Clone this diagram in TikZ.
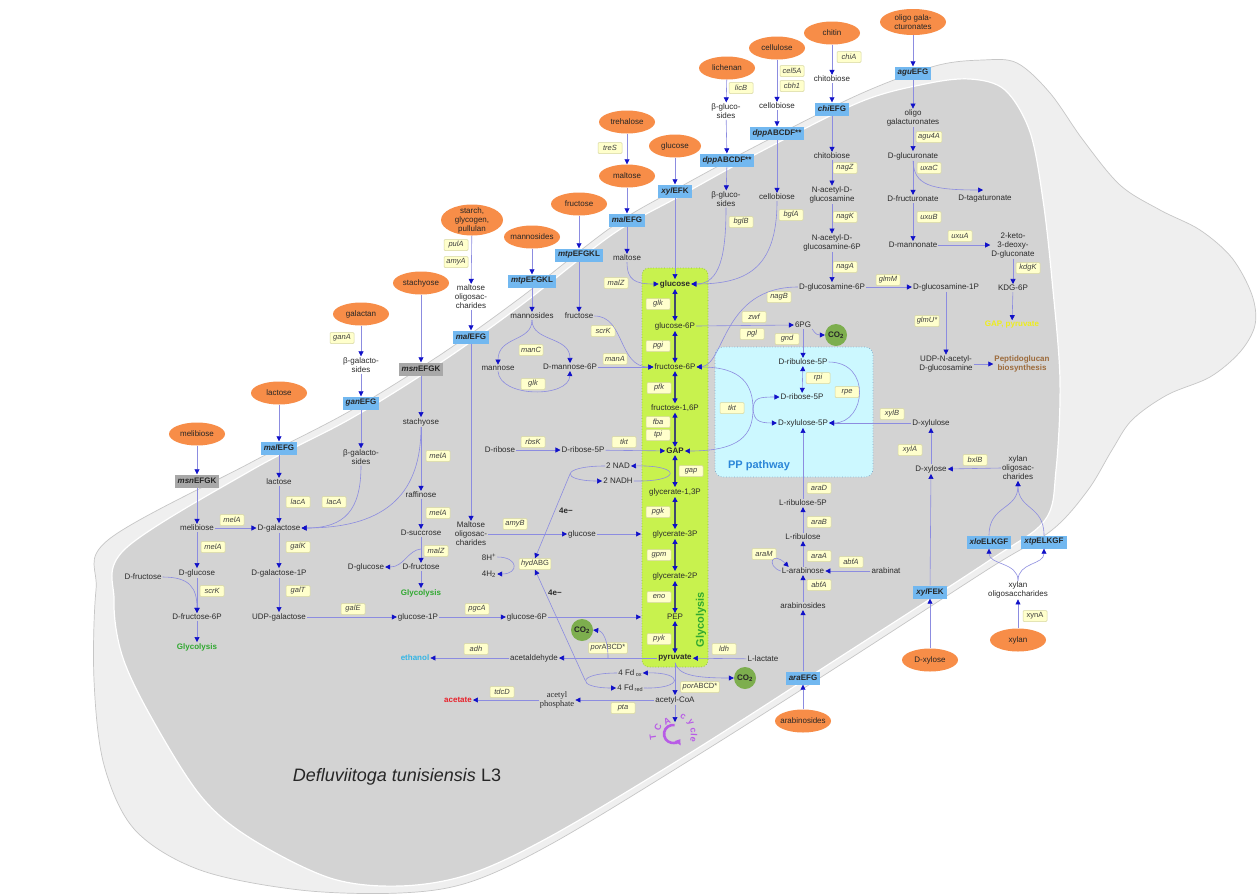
\documentclass[tikz,border=0pt]{standalone}
\usepackage{fontspec}
\setmainfont{Liberation Sans}
\newfontfamily\serifx{Liberation Serif}
\usetikzlibrary{arrows.meta,shapes.geometric}
\definecolor{outerg}{HTML}{EFEFEF}
\definecolor{outerb}{HTML}{C6C6C6}
\definecolor{innerg}{HTML}{D3D3D3}
\definecolor{ellc}{HTML}{F78D48}
\definecolor{tboxc}{HTML}{72B8F0}
\definecolor{gboxc}{HTML}{A8A8A8}
\definecolor{genef}{HTML}{FFFFCC}
\definecolor{genel}{HTML}{D6D6A0}
\definecolor{linec}{HTML}{8C8CE0}
\definecolor{arrc}{HTML}{1010C8}
\definecolor{glyf}{HTML}{C8F24E}
\definecolor{glyb}{HTML}{8DB83A}
\definecolor{ppf}{HTML}{CCF8FF}
\definecolor{ppb}{HTML}{7FA8C8}
\definecolor{co2c}{HTML}{7DAE4E}
\definecolor{metc}{HTML}{2B2B2B}
\definecolor{greent}{HTML}{2FA82F}
\definecolor{ppt}{HTML}{2B86D8}
\definecolor{ethc}{HTML}{33B5E5}
\definecolor{acec}{HTML}{E8202A}
\definecolor{pepc}{HTML}{9C6A3A}
\definecolor{gapyc}{HTML}{EEEE1C}
\definecolor{tcac}{HTML}{B85CE6}
\definecolor{colc}{HTML}{404870}
\begin{document}
\begin{tikzpicture}[x=1pt,y=-1pt,
  mtext/.style={font=\fontsize{8}{9}\selectfont, text=metc, align=center, inner sep=1pt},
  elltxt/.style={font=\fontsize{8}{9}\selectfont, text=black!85, align=center, inner sep=0pt},
  ellx/.style={ellipse, fill=ellc, minimum width=56pt, minimum height=23pt, inner sep=0pt, label={[elltxt]center:#1}},
  tbx/.style={rectangle, fill=tboxc, minimum height=13pt, inner xsep=3pt, inner ysep=0pt, font=\fontsize{8}{9}\selectfont\bfseries, text=black!85},
  gbx/.style={tbx, fill=gboxc},
  gen/.style={rectangle, rounded corners=1pt, fill=genef, draw=genel, line width=0.5pt, minimum width=24pt, minimum height=11pt, inner xsep=2pt, inner ysep=0pt, font=\fontsize{7.5}{8}\selectfont\itshape, text=black!75},
  fl/.style={draw=linec, line width=0.6pt, -{Triangle[length=5pt,width=5pt,color=arrc]}},
  fl2/.style={draw=linec, line width=0.6pt, {Triangle[length=5pt,width=5pt,color=arrc]}-{Triangle[length=5pt,width=5pt,color=arrc]}},
  colx/.style={draw=colc, line width=1.1pt, {Triangle[length=5pt,width=5pt,color=arrc]}-{Triangle[length=5pt,width=5pt,color=arrc]}},
  cotwo/.style={circle, fill=co2c, minimum size=22pt, inner sep=0pt, font=\fontsize{8}{9}\selectfont\bfseries, text=black!85},
  boldt/.style={mtext, font=\fontsize{8}{9}\selectfont\bfseries},
  tcal/.style={font=\fontsize{9}{10}\selectfont\bfseries, text=tcac, inner sep=0pt}
]
\useasboundingbox (0,0) rectangle (1258,895);
\fill[white] (0,0) rectangle (1258,895);
% ---------- background cell ----------
\fill[outerg, draw=outerb, line width=0.7pt] plot[smooth cycle, tension=0.55] coordinates {
 (96,590) (108,540) (250,463) (350,411) (440,355) (520,298) (613,226) (680,187) (760,144) (860,94) (935,66)
 (983,60) (1017,63) (1050,93) (1083,140) (1120,185) (1160,210) (1200,230) (1232,258) (1252,295) (1255,325)
 (1240,352) (1210,377) (1167,395) (1132,420) (1112,450) (1088,490) (1052,530) (990,568) (840,665) (690,760)
 (553,843) (470,882) (400,893) (300,890) (200,870) (135,830) (104,765) (94,680)};
\fill[innerg, draw=white, line width=1.2pt] plot[smooth cycle, tension=0.55] coordinates {
 (114,600) (125,549) (250,471) (350,419) (440,363) (520,306) (613,234) (680,196) (760,152) (860,102) (925,84)
 (970,79) (1005,90) (1030,132) (1043,200) (1052,280) (1060,380) (1056,470) (1045,520) (990,560) (840,657)
 (690,753) (553,835) (470,874) (400,886) (330,878) (250,838) (200,795) (150,715) (122,655)};
% ---------- pathway boxes ----------
\draw[fill=glyf, draw=glyb, dotted, line width=0.7pt, rounded corners=7pt] (642,268) rectangle (708,667);
\draw[fill=ppf, draw=ppb, dotted, line width=0.7pt, rounded corners=8pt] (715,347) rectangle (873,477);
\node[rotate=90, font=\fontsize{11}{12}\selectfont\bfseries, text=greent] (glyV) at (701,620) {Glycolysis};
\node[font=\fontsize{11}{12}\selectfont\bfseries, text=ppt] (ppT) at (759,466) {PP pathway};
% ---------- upper middle sources ----------
\node[ellx={trehalose}] (trehE) at (627,122) {};
\node[gen] (gtreS) at (610,148) {treS};
\node[ellx={maltose}] (maltE) at (627,176) {};
\node[tbx] (malEFGa) at (627,220) {\textit{mal}EFG};
\node[mtext] (maltoseT) at (627,258) {maltose};
\node[ellx={glucose}, minimum width=52pt] (glcE) at (675,146) {};
\node[tbx] (xylEFK) at (675,191) {\textit{xyl}EFK};
\node[ellx={fructose}] (fruE) at (579,204) {};
\node[tbx] (mtpa) at (579,255) {\textit{mtp}EFGKL};
\node[mtext] (fructoseT) at (579,316) {fructose};
\node[ellx={mannosides}] (mannE) at (532,237) {};
\node[tbx] (mtpb) at (532,281) {\textit{mtp}EFGKL};
\node[mtext] (mannosidesT) at (532,316) {mannosides};
\node[ellx={starch,\\glycogen,\\pullulan}, minimum width=62pt, minimum height=31pt] (starchE) at (472,220) {};
\node[gen] (gpulA) at (456,245) {pulA};
\node[gen] (gamyA) at (456,262) {amyA};
\node[mtext] (moligoT) at (471,297) {maltose\\oligosac-\\charides};
\node[tbx] (malEFGb) at (471,337) {\textit{mal}EFG};
\node[mtext] (moligoBT) at (471,534) {Maltose\\oligosac-\\charides};
\node[gen] (gmalZa) at (616,283) {malZ};
\node[gen] (gscrKa) at (603,331) {scrK};
\node[mtext] (mannoseT) at (498,368) {mannose};
\node[gen] (gmanC) at (531,350) {manC};
\node[mtext] (dmsixT) at (570,367) {D-mannose-6P};
\node[gen] (gglkb) at (533,384) {glk};
\node[gen] (gmanA) at (615,359) {manA};
\node[mtext] (driboseT) at (500,450) {D-ribose};
\node[gen] (grbsK) at (533,442) {rbsK};
\node[mtext] (drfiveT) at (583,450) {D-ribose-5P};
\node[gen] (gtkta) at (624,442) {tkt};
\node[mtext] (nadT) at (618,466) {2 NAD};
\node[mtext] (nadhT) at (618,481) {2 NADH};
\node[boldt] (efourA) at (566,511) {4e−};
\node[gen] (gamyB) at (515,524) {amyB};
\node[mtext] (glcCT) at (582,534) {glucose};
\coordinate (boxA) at (641,534);
\node[mtext] (heightT) at (489,557) {8H\textsuperscript{+}};
\node[mtext] (htwoT) at (489,574) {4H\textsubscript{2}};
\node[gen] (ghyd) at (535,564) {hyd{\upshape ABG}};
\node[boldt] (efourB) at (555,593) {4e−};
\node[cotwo] (cotwoC) at (582,630) {CO\textsubscript{2}};
\node[gen] (gporA) at (608,648) {por{\upshape ABCD*}};
\node[gen] (gadh) at (476,649) {adh};
\node[mtext] (acetaldT) at (534,658) {acetaldehyde};
\node[mtext, font=\fontsize{8}{9}\selectfont\bfseries, text=ethc] (ethanolT) at (415,658) {ethanol};
\node[mtext] (fdoxT) at (630,673) {4 Fd\,\raisebox{-1pt}{\fontsize{5.5}{6}\selectfont ox}};
\node[mtext] (fdredT) at (630,688) {4 Fd\,\raisebox{-1pt}{\fontsize{5.5}{6}\selectfont red}};
\node[gen] (gtdcD) at (502,692) {tdcD};
\node[mtext, font=\fontsize{8.5}{9}\selectfont\serifx] (acphT) at (557,700) {acetyl\\phosphate};
\node[mtext, font=\fontsize{8}{9}\selectfont\bfseries, text=acec] (acetateT) at (458,700) {acetate};
\node[gen] (gpta) at (623,708) {pta};
\node[mtext] (acoaT) at (675,700) {acetyl-CoA};
\coordinate (tcaIn) at (675,722);
% ---------- glycolysis column ----------
\node[boldt] (glucoseG) at (675,284) {glucose};
\node[mtext] (gsixT) at (675,326) {glucose-6P};
\node[mtext] (fsixT) at (675,367) {fructose-6P};
\node[mtext] (fbpT) at (675,408) {fructose-1,6P};
\node[boldt] (gapT) at (675,451) {GAP};
\node[mtext] (gotT) at (675,492) {glycerate-1,3P};
\node[mtext] (gthreeT) at (675,534) {glycerate-3P};
\node[mtext] (gtwoT) at (675,576) {glycerate-2P};
\node[mtext] (pepT) at (675,617) {PEP};
\node[boldt] (pyrT) at (675,658) {pyruvate};
\node[gen] (gglk) at (658,304) {glk};
\node[gen] (gpgi) at (658,346) {pgi};
\node[gen] (gpfk) at (659,388) {pfk};
\node[gen] (gfba) at (658,422) {fba};
\node[gen] (gtpi) at (658,435) {tpi};
\node[gen] (ggap) at (691,471) {gap};
\node[gen] (gpgk) at (658,512) {pgk};
\node[gen] (ggpm) at (659,555) {gpm};
\node[gen] (geno) at (659,597) {eno};
\node[gen] (gpyk) at (659,639) {pyk};
% ---------- left sources ----------
\node[ellx={stachyose}] (stachE) at (421,283) {};
\node[gbx] (msna) at (421,369) {\textit{msn}EFGK};
\node[mtext] (stachT) at (421,422) {stachyose};
\node[gen] (gmelAa) at (438,456) {melA};
\node[mtext] (raffT) at (421,495) {raffinose};
\node[gen] (gmelAb) at (438,513) {melA};
\node[mtext] (dsuccT) at (421,533) {D-succrose};
\node[gen] (gmalZb) at (436,551) {malZ};
\node[mtext] (dfruT) at (421,567) {D-fructose};
\node[mtext] (dglcBT) at (366,567) {D-glucose};
\node[mtext, font=\fontsize{8}{9}\selectfont\bfseries, text=greent] (glycoBT) at (421,593) {Glycolysis};
\coordinate (succbr) at (421,549);
\node[ellx={galactan}] (galE) at (361,314) {};
\node[gen] (gganA) at (342,338) {ganA};
\node[mtext] (bgalaT) at (361,365) {β-galacto-\\sides};
\node[tbx] (ganEFG) at (361,403) {\textit{gan}EFG};
\node[mtext] (bgalbT) at (361,457) {β-galacto-\\sides};
\node[ellx={lactose}] (lacE) at (279,393) {};
\node[tbx] (malEFGc) at (279,448) {\textit{mal}EFG};
\node[mtext] (lactoseT) at (279,482) {lactose};
\node[gen] (glacAa) at (298,502) {lacA};
\node[gen] (glacAb) at (334,502) {lacA};
\node[mtext] (dgalT) at (279,528) {D-galactose};
\node[gen] (ggalK) at (298,547) {galK};
\node[mtext] (dgalpT) at (279,573) {D-galactose-1P};
\node[gen] (ggalT) at (298,591) {galT};
\node[mtext] (udpgalT) at (279,617) {UDP-galactose};
\node[gen] (ggalE) at (353,609) {galE};
\node[mtext] (gonepT) at (418,617) {glucose-1P};
\node[gen] (gpgcA) at (477,609) {pgcA};
\node[mtext] (gsixBT) at (527,617) {glucose-6P};
\coordinate (boxB) at (641,617);
\node[ellx={melibiose}] (melE) at (197,434) {};
\node[gbx] (msnb) at (197,481) {\textit{msn}EFGK};
\node[mtext] (melT) at (197,528) {melibiose};
\node[gen] (gmelAc) at (232,520) {melA};
\node[gen] (gmelAd) at (213,547) {melA};
\node[mtext] (dglcT) at (197,573) {D-glucose};
\node[mtext] (dfruAT) at (143,577) {D-fructose};
\node[gen] (gscrKb) at (212,591) {scrK};
\node[mtext] (dfsixT) at (197,617) {D-fructose-6P};
\node[mtext, font=\fontsize{8}{9}\selectfont\bfseries, text=greent] (glycoAT) at (197,647) {Glycolysis};
% ---------- upper right sources ----------
\node[ellx={lichenan}] (lichE) at (727,68) {};
\node[gen] (glicB) at (741,88) {licB};
\node[mtext] (bglucaT) at (726,111) {β-gluco-\\sides};
\node[tbx] (dppb) at (727,160) {\textit{dpp}ABCDF**};
\node[mtext] (bglucbT) at (726,199) {β-gluco-\\sides};
\node[gen] (gbglB) at (741,222) {bglB};
\node[ellx={cellulose}] (cellE) at (777,48) {};
\node[gen] (gcel) at (792,71) {cel5A};
\node[gen] (gcbh) at (792,86) {cbh1};
\node[mtext] (cellobaT) at (777,106) {cellobiose};
\node[tbx] (dppa) at (777,133) {\textit{dpp}ABCDF**};
\node[mtext] (cellobbT) at (777,197) {cellobiose};
\node[gen] (gbglA) at (791,215) {bglA};
\node[ellx={chitin}] (chitinE) at (832,33) {};
\node[gen] (gchiA) at (849,57) {chiA};
\node[mtext] (chitobaT) at (832,79) {chitobiose};
\node[tbx] (chiEFG) at (832,109) {\textit{chi}EFG};
\node[mtext] (chitobbT) at (832,156) {chitobiose};
\node[gen] (gnagZ) at (845,168) {nagZ};
\node[mtext] (nacT) at (832,195) {N-acetyl-D-\\glucosamine};
\node[gen] (gnagK) at (845,217) {nagK};
\node[mtext] (nacsixT) at (832,243) {N-acetyl-D-\\glucosamine-6P};
\node[gen] (gnagA) at (845,267) {nagA};
\node[mtext] (gnsixT) at (832,287) {D-glucosamine-6P};
\node[gen] (gglmM) at (888,280) {glmM};
\node[mtext] (gnoneT) at (946,287) {D-glucosamine-1P};
\node[gen] (gglmU) at (927,321) {glmU*};
\node[mtext] (udpT) at (946,364) {UDP-N-acetyl-\\D-glucosamine};
\node[mtext, font=\fontsize{8}{9}\selectfont\bfseries, text=pepc] (peptT) at (1022,364) {Peptidoglucan\\biosynthesis};
\node[ellx={oligo gala-\\cturonates}, minimum width=66pt, minimum height=26pt] (oligoE) at (913,22) {};
\node[tbx] (aguEFG) at (913,73) {\textit{agu}EFG};
\node[mtext] (oligoT) at (913,118) {oligo\\galacturonates};
\node[gen] (gagu) at (929,137) {agu4A};
\node[mtext] (glcurT) at (913,156) {D-glucuronate};
\node[gen] (guxaC) at (929,168) {uxaC};
\node[mtext] (fruurT) at (913,199) {D-fructuronate};
\node[mtext] (tagT) at (985,199) {D-tagaturonate};
\coordinate (tagIn) at (983,190);
\node[gen] (guxuB) at (929,217) {uxuB};
\node[mtext] (mannonT) at (913,245) {D-mannonate};
\node[gen] (guxuA) at (960,236) {uxuA};
\node[mtext] (kdgT) at (1013,245) {2-keto-\\3-deoxy-\\D-gluconate};
\node[gen] (gkdgK) at (1028,268) {kdgK};
\node[mtext] (kdgsixT) at (1013,288) {KDG-6P};
\node[mtext, font=\fontsize{8}{9}\selectfont\bfseries, text=gapyc] (gappyrT) at (1012,325) {GAP, pyruvate};
% ---------- PP pathway ----------
\node[gen] (gnagB) at (779,297) {nagB};
\node[gen] (gzwf) at (754,317) {zwf};
\node[gen] (gpgl) at (752,334) {pgl};
\node[gen] (ggnd) at (787,339) {gnd};
\node[mtext] (sixpgT) at (803,325) {6PG};
\node[cotwo] (cotwoA) at (836,335) {CO\textsubscript{2}};
\node[mtext] (rufiveT) at (803,362) {D-ribulose-5P};
\node[gen] (grpi) at (818,378) {rpi};
\node[mtext] (rfiveT) at (802,397) {D-ribose-5P};
\node[gen] (grpe) at (847,392) {rpe};
\node[mtext] (xufiveT) at (803,423) {D-xylulose-5P};
\node[gen] (gtktb) at (732,408) {tkt};
\coordinate (tktP) at (753,409);
% ---------- xylose / arabinose ----------
\node[gen] (gxylB) at (892,414) {xylB};
\node[mtext] (xuluT) at (931,423) {D-xylulose};
\node[gen] (gxylA) at (910,450) {xylA};
\node[mtext] (xyloseT) at (931,469) {D-xylose};
\node[gen] (gbxlB) at (975,460) {bxlB};
\node[mtext] (xoligoT) at (1018,468) {xylan\\oligosac-\\charides};
\node[tbx] (xlo) at (989,542) {\textit{xlo}ELKGF};
\node[tbx] (xtp) at (1044,542) {\textit{xtp}ELKGF};
\node[mtext] (xoligoBT) at (1018,590) {xylan\\oligosaccharides};
\node[gen, font=\fontsize{7.5}{8}\selectfont] (gxynA) at (1035,616) {xynA};
\node[ellx={xylan}] (xylanE) at (1018,640) {};
\node[tbx] (xylFEK) at (930,592) {\textit{xyl}FEK};
\node[ellx={D-xylose}] (xyloseE) at (930,660) {};
\node[gen] (garaD) at (819,488) {araD};
\node[mtext] (lrufiveT) at (803,503) {L-ribulose-5P};
\node[gen] (garaB) at (819,522) {araB};
\node[mtext] (lrulT) at (803,537) {L-ribulose};
\node[gen] (garaM) at (764,554) {araM};
\node[gen] (garaA) at (819,556) {araA};
\node[gen] (gabfAa) at (851,562) {abfA};
\node[mtext] (larabT) at (803,571) {L-arabinose};
\node[mtext] (arabinatT) at (886,571) {arabinat};
\node[gen] (gabfAb) at (819,585) {abfA};
\node[mtext] (arabsT) at (803,606) {arabinosides};
\node[tbx] (araEFG) at (803,678) {\textit{ara}EFG};
\node[ellx={arabinosides}] (araE) at (803,721) {};
\node[gen] (gldh) at (724,649) {ldh};
\node[mtext] (llacT) at (763,659) {L-lactate};
\node[cotwo] (cotwoB) at (745,678) {CO\textsubscript{2}};
\node[gen] (gporB) at (700,687) {por{\upshape ABCD*}};
% ---------- title ----------
\node[font=\fontsize{18}{20}\selectfont, text=black!85] (title) at (397,777) {\textit{Defluviitoga tunisiensis} L3};
% ---------- TCA cycle ----------
\draw[tcac, line width=2.6pt, -{Triangle[length=5pt,width=7pt]}] (674.6,725.1) arc[start angle=-80, end angle=-325, radius=9];
\node[tcal, rotate=98] (tcaT) at (653,737) {T};
\node[tcal, rotate=65] (tcaC) at (658,727) {C};
\node[tcal, rotate=25] (tcaA) at (667,721) {A};
\node[tcal, rotate=-30] (cyA) at (683,717) {c};
\node[tcal, rotate=-57] (cyB) at (690,723) {y};
\node[tcal, rotate=-79] (cyC) at (693,730) {c};
\node[tcal, rotate=-93] (cyD) at (694,735) {l};
\node[tcal, rotate=-107] (cyE) at (693,740) {e};
% ================= connectors =================
% glucose / maltose / trehalose
\draw[fl] (trehE) -- (maltE);
\draw[fl] (maltE) -- (malEFGa);
\draw[fl] (malEFGa) -- (maltoseT);
\draw[fl] (maltoseT.south) .. controls (627,280) and (635,284) .. (glucoseG.west);
\draw[fl] (glcE) -- (xylEFK);
\draw[fl] (xylEFK) -- (glucoseG);
\draw[fl] (fruE) -- (mtpa);
\draw[fl] (mtpa) -- (fructoseT);
\draw[fl] (fructoseT.east) .. controls (625,316) and (618,367) .. (fsixT.west);
\draw[fl] (mannE) -- (mtpb);
\draw[fl] (mtpb) -- (mannosidesT);
\draw[fl] (mannosidesT.south) .. controls (532,342) and (498,336) .. (mannoseT.north);
\draw[fl] (mannosidesT.south) .. controls (532,342) and (570,336) .. (dmsixT.north);
\draw[fl] (mannoseT.south) .. controls (500,398) and (569,398) .. (dmsixT.south);
\draw[fl] (dmsixT.east) -- (fsixT.west);
\draw[fl] (starchE) -- (moligoT);
\draw[fl] (moligoT) -- (malEFGb);
\draw[fl] (malEFGb) -- (moligoBT);
\draw[fl] (moligoBT.east) -- (glcCT.west);
\draw[fl] (glcCT.east) -- (boxA);
% stachyose / galactan / lactose / melibiose
\draw[fl] (stachE) -- (msna);
\draw[fl] (msna) -- (stachT);
\draw[fl] (stachT) -- (raffT);
\draw[fl] (raffT) -- (dsuccT);
\draw[fl] (dsuccT) -- (dfruT);
\draw[fl] (dfruT) -- (glycoBT);
\draw[fl] (succbr) .. controls (408,550) and (404,567) .. (dglcBT.east);
\draw[fl] (stachT.south) .. controls (421,490) and (390,528) .. (dgalT.east);
\draw[fl] (galE) -- (bgalaT);
\draw[fl] (bgalaT) -- (ganEFG);
\draw[fl] (ganEFG) -- (bgalbT);
\draw[fl] (bgalbT.south) .. controls (361,510) and (345,528) .. (dgalT.east);
\draw[fl] (lacE) -- (malEFGc);
\draw[fl] (malEFGc) -- (lactoseT);
\draw[fl] (lactoseT) -- (dgalT);
\draw[fl] (dgalT) -- (dgalpT);
\draw[fl] (dgalpT) -- (udpgalT);
\draw[fl] (udpgalT) -- (gonepT);
\draw[fl] (gonepT) -- (gsixBT);
\draw[fl] (gsixBT) -- (boxB);
\draw[fl] (melE) -- (msnb);
\draw[fl] (msnb) -- (melT);
\draw[fl] (melT) -- (dgalT);
\draw[fl] (melT) -- (dglcT);
\draw[fl] (dglcT) -- (dfsixT);
\draw[fl] (dfsixT) -- (glycoAT);
\draw[fl] (dfruAT.east) .. controls (190,577) and (197,588) .. (dfsixT.north);
% ribose, NAD, hydrogenase
\draw[fl] (driboseT) -- (drfiveT);
\draw[fl] (drfiveT) -- (gapT);
\draw[fl] (nadhT.east) .. controls (682,482) and (682,465) .. (nadT.east);
\draw[fl] (nadT.west) .. controls (560,466) and (560,481) .. (nadhT.west);
\coordinate (nadL) at (570,474);
\draw[fl] (nadL) -- (ghyd.north);
\coordinate (fdL) at (585,680);
\draw[fl] (fdL) -- (ghyd.south);
\draw[fl] (fdredT.east) .. controls (684,689) and (684,672) .. (fdoxT.east);
\draw[fl] (fdoxT.west) .. controls (576,673) and (576,688) .. (fdredT.west);
\draw[fl] (heightT.east) .. controls (519,557) and (519,574) .. (htwoT.east);
% pyruvate
\draw[fl] (pyrT) -- (acoaT);
\draw[fl] (acoaT) -- (tcaIn);
\draw[fl] (pyrT.south) .. controls (678,675) and (695,678) .. (cotwoB.west);
\draw[fl] (pyrT.west) -- (acetaldT.east);
\coordinate (porbr) at (608,658);
\draw[fl] (porbr) .. controls (608,640) and (603,631) .. (cotwoC.east);
\draw[fl] (acetaldT) -- (ethanolT);
\draw[fl] (llacT) -- (pyrT);
\draw[fl] (acoaT) -- (acphT);
\draw[fl] (acphT) -- (acetateT);
% glycolysis column
\draw[colx] (glucoseG) -- (gsixT);
\draw[colx] (gsixT) -- (fsixT);
\draw[colx] (fsixT) -- (fbpT);
\draw[colx] (fbpT) -- (gapT);
\draw[colx] (gapT) -- (gotT);
\draw[colx] (gotT) -- (gthreeT);
\draw[colx] (gthreeT) -- (gtwoT);
\draw[colx] (gtwoT) -- (pepT);
\draw[colx] (pepT) -- (pyrT);
% PP pathway
\draw[fl] (gsixT.east) -- (sixpgT.west);
\draw[fl] (sixpgT) -- (rufiveT);
\draw[fl] (sixpgT.south east) .. controls (816,335) and (818,335) .. (cotwoA.west);
\draw[fl2] (rufiveT) -- (rfiveT);
\draw[fl] (rufiveT.east) .. controls (872,362) and (866,423) .. (xufiveT.east);
\draw[fl2] (fsixT.east) .. controls (742,367) and (753,385) .. (tktP) .. controls (753,435) and (740,451) .. (gapT.east);
\draw[fl] (tktP) .. controls (754,398) and (758,397) .. (rfiveT.west);
\draw[fl] (tktP) .. controls (754,420) and (758,423) .. (xufiveT.west);
\draw[fl] (gnsixT.west) .. controls (722,287) and (725,365) .. (fsixT.east);
% xylose / xylan / arabinose
\draw[fl] (xuluT) -- (xufiveT);
\draw[fl] (xyloseT) -- (xuluT);
\draw[fl] (xylFEK) -- (xyloseT);
\draw[fl] (xyloseE) -- (xylFEK);
\draw[fl] (xoligoT.west) -- (xyloseT.east);
\draw[fl] (xylanE) -- (xoligoBT);
\draw[fl] (xoligoBT.north) .. controls (1018,562) and (989,565) .. (xlo.south);
\draw[fl] (xoligoBT.north) .. controls (1018,562) and (1044,565) .. (xtp.south);
\draw[fl] (xlo.north) .. controls (989,505) and (1018,510) .. (xoligoT.south);
\draw[fl] (xtp.north) .. controls (1044,505) and (1018,510) .. (xoligoT.south);
\draw[fl] (lrufiveT) -- (xufiveT);
\draw[fl] (lrulT) -- (lrufiveT);
\draw[fl] (larabT) -- (lrulT);
\draw[fl] (arabinatT) -- (larabT);
\draw[fl] (arabsT) -- (larabT);
\draw[fl] (araEFG) -- (arabsT);
\draw[fl] (araE) -- (araEFG);
\draw[fl] (larabT.west) .. controls (766,566) and (772,550) .. ([xshift=8pt]larabT.north west);
% upper right chains
\draw[fl] (lichE) -- (bglucaT);
\draw[fl] (bglucaT) -- (dppb);
\draw[fl] (dppb) -- (bglucbT);
\draw[fl] (bglucbT.south) .. controls (726,255) and (720,284) .. (glucoseG.east);
\draw[fl] (cellE) -- (cellobaT);
\draw[fl] (cellobaT) -- (dppa);
\draw[fl] (dppa) -- (cellobbT);
\draw[fl] (cellobbT.south) .. controls (777,270) and (745,284) .. (glucoseG.east);
\draw[fl] (chitinE) -- (chitobaT);
\draw[fl] (chitobaT) -- (chiEFG);
\draw[fl] (chiEFG) -- (chitobbT);
\draw[fl] (chitobbT) -- (nacT);
\draw[fl] (nacT) -- (nacsixT);
\draw[fl] (nacsixT) -- (gnsixT);
\draw[fl] (gnsixT) -- (gnoneT);
\draw[fl] (gnoneT) -- (udpT);
\draw[fl] (udpT) -- (peptT);
\draw[fl] (oligoE) -- (aguEFG);
\draw[fl] (aguEFG) -- (oligoT);
\draw[fl] (oligoT) -- (glcurT);
\draw[fl] (glcurT) -- (fruurT);
\draw[fl] (fruurT) -- (mannonT);
\draw[fl] (mannonT) -- (kdgT);
\draw[fl] (kdgT) -- (kdgsixT);
\draw[fl] (kdgsixT) -- (gappyrT);
\draw[fl] (glcurT.south) .. controls (914,185) and (930,190) .. (tagIn);
\end{tikzpicture}
\end{document}
